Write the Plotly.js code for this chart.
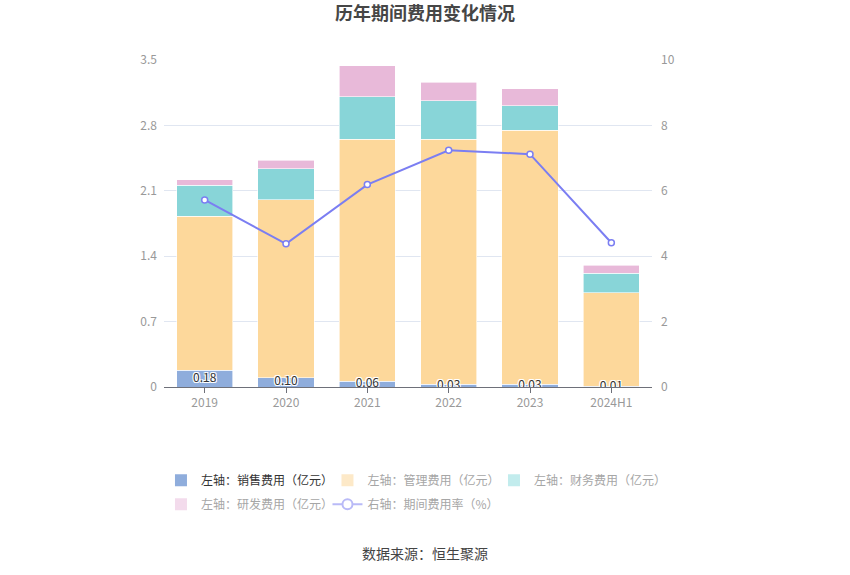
<!DOCTYPE html>
<html>
<head>
<meta charset="utf-8">
<script src="https://cdn.plot.ly/plotly-3.0.1.min.js"></script>
<style>html,body{margin:0;padding:0;background:#fff;}#chart{width:850px;height:575px;}</style>
</head>
<body>
<div id="chart"></div>
<script>
var categories = ['2019', '2020', '2021', '2022', '2023', '2024H1'];
var salesExpense = [0.18, 0.10, 0.06, 0.03, 0.03, 0.01];
var adminExpense = [1.645, 1.904, 2.593, 2.623, 2.719, 1.00];
var financeExpense = [0.332, 0.331, 0.455, 0.412, 0.263, 0.206];
var rdExpense = [0.061, 0.093, 0.331, 0.197, 0.178, 0.086];
var expenseRate = [5.72, 4.38, 6.19, 7.24, 7.12, 4.41];
var leftTickVals = [0, 0.7, 1.4, 2.1, 2.8, 3.5];
var leftTickText = ['0', '0.7', '1.4', '2.1', '2.8', '3.5'];
var rightTickVals = [0, 2, 4, 6, 8, 10];
var seriesNames = ['左轴：销售费用（亿元）', '左轴：管理费用（亿元）', '左轴：财务费用（亿元）', '左轴：研发费用（亿元）', '右轴：期间费用率（%）'];

var FONT = '"Noto Sans CJK SC", "Noto Sans", sans-serif';
var colors = ['#8faddc', '#fdd89b', '#88d5d8', '#e8b9d9', '#7b7ef2'];
var fadedColors = ['#8faddc', '#fde9c8', '#c2eced', '#f3dbec', '#b9baf7'];
var legendTextColors = ['#333333', '#a6a6a6', '#a6a6a6', '#a6a6a6', '#a6a6a6'];

var barSeries = [salesExpense, adminExpense, financeExpense, rdExpense];
var traces = [];
barSeries.forEach(function (vals, i) {
  traces.push({
    type: 'bar', x: categories, y: vals, name: seriesNames[i],
    marker: {color: colors[i], line: {color: '#ffffff', width: 0.6}},
    showlegend: false, hoverinfo: 'skip', yaxis: 'y'
  });
});
traces.push({
  type: 'scatter', mode: 'lines+markers', x: categories, y: expenseRate, name: seriesNames[4],
  yaxis: 'y2', showlegend: false, hoverinfo: 'skip',
  line: {color: colors[4], width: 2},
  marker: {symbol: 'circle', size: 6, color: '#ffffff', line: {color: colors[4], width: 1.5}}
});
// labels for sales expense, centred on its segment
traces.push({
  type: 'scatter', mode: 'text', x: categories,
  y: salesExpense.map(function (v) { return v / 2; }),
  text: salesExpense.map(function (v) { return v.toFixed(2); }),
  textposition: 'middle center', yaxis: 'y', showlegend: false, hoverinfo: 'skip',
  textfont: {family: FONT, size: 12, color: '#333333',
    shadow: '1px 1px 0 #fff, -1px -1px 0 #fff, 1px -1px 0 #fff, -1px 1px 0 #fff'}
});
// legend entries
for (var i = 0; i < 4; i++) {
  traces.push({
    type: 'bar', x: categories, y: categories.map(function () { return null; }),
    name: '<span style="color:' + legendTextColors[i] + '">' + seriesNames[i] + '</span>',
    marker: {color: fadedColors[i], line: {width: 0}}, hoverinfo: 'skip',
    legend: i < 3 ? 'legend' : 'legend2', yaxis: 'y'
  });
}
traces.push({
  type: 'scatter', mode: 'lines+markers', x: categories, y: categories.map(function () { return null; }),
  name: '<span style="color:' + legendTextColors[4] + '">' + seriesNames[4] + '</span>',
  line: {color: fadedColors[4], width: 2},
  marker: {symbol: 'circle', size: 10, color: '#ffffff', line: {color: fadedColors[4], width: 2}},
  legend: 'legend2', yaxis: 'y2', hoverinfo: 'skip'
});

var legendCommon = {
  orientation: 'h', xanchor: 'left', yanchor: 'middle', x: -0.0062,
  entrywidth: 121.5, entrywidthmode: 'pixels', bgcolor: 'rgba(0,0,0,0)',
  font: {family: FONT, size: 12, color: '#a6a6a6'}, traceorder: 'normal'
};

var layout = {
  width: 850, height: 575,
  margin: {l: 164, r: 198, t: 60, b: 188},
  paper_bgcolor: '#ffffff', plot_bgcolor: '#ffffff',
  font: {family: FONT, size: 12, color: '#999999'},
  title: {text: '历年期间费用变化情况', x: 0.5, xanchor: 'center', xref: 'container',
    y: 1 - 14 / 575, yanchor: 'middle', yref: 'container',
    font: {family: FONT, size: 18, color: '#464646', weight: 'bold'}},
  barmode: 'stack', bargap: 0.31,
  showlegend: true,
  xaxis: {type: 'category', showline: true, linecolor: '#6e7079', linewidth: 1,
    ticks: 'outside', ticklen: 5, tickcolor: '#6e7079', showgrid: false,
    tickfont: {family: FONT, size: 12, color: '#999999'}, fixedrange: true},
  yaxis: {range: [0, 3.5], tickvals: leftTickVals, ticktext: leftTickText,
    showgrid: true, gridcolor: '#e0e6f1', gridwidth: 1, zeroline: false, showline: false,
    ticks: '', ticklabelstandoff: 6,
    tickfont: {family: FONT, size: 12, color: '#999999'}, fixedrange: true},
  yaxis2: {range: [0, 10], tickvals: rightTickVals, overlaying: 'y', side: 'right',
    showgrid: false, zeroline: false, showline: false, ticks: '', ticklabelstandoff: 8,
    tickfont: {family: FONT, size: 12, color: '#999999'}, fixedrange: true},
  legend: Object.assign({}, legendCommon, {y: (387.5 - 481) / 327.5}),
  legend2: Object.assign({}, legendCommon, {y: (387.5 - 505) / 327.5}),
  annotations: [{
    text: '数据来源：恒生聚源', xref: 'paper', yref: 'paper', x: (425 - 164) / 488,
    y: (387.5 - 554) / 327.5, xanchor: 'center', yanchor: 'middle', showarrow: false,
    font: {family: FONT, size: 14, color: '#444444'}
  }]
};

Plotly.newPlot('chart', traces, layout, {displayModeBar: false, staticPlot: true});
</script>
</body>
</html>
